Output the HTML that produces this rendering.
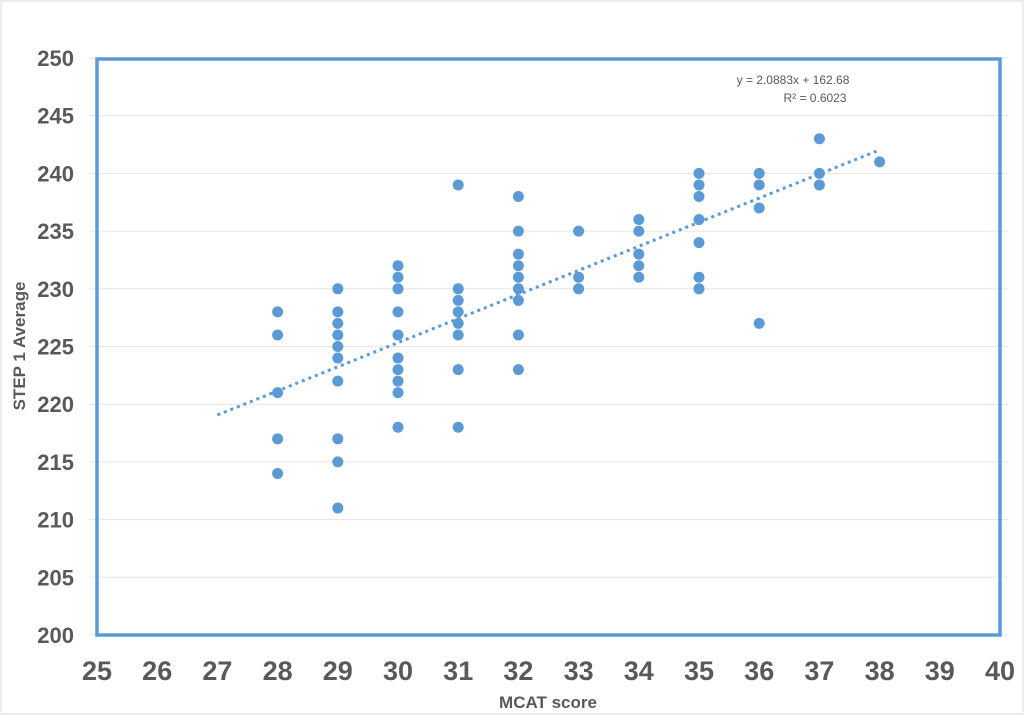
<!DOCTYPE html>
<html><head><meta charset="utf-8"><style>
body{margin:0;background:#fff;width:1024px;height:715px;overflow:hidden;font-family:"Liberation Sans",sans-serif}
</style></head><body>
<svg id="c" width="1024" height="715" xmlns="http://www.w3.org/2000/svg">
<rect x="1" y="1" width="1022" height="713" fill="#fff" stroke="#d9d9d9"/>
</svg>
<script>
const xTicks=[25,26,27,28,29,30,31,32,33,34,35,36,37,38,39,40];
const yTicks=[200,205,210,215,220,225,230,235,240,245,250];
const mcat=[28,28,28,28,28,29,29,29,29,29,29,29,29,29,29,30,30,30,30,30,30,30,30,30,30,31,31,31,31,31,31,31,31,32,32,32,32,32,32,32,32,32,33,33,33,34,34,34,34,34,35,35,35,35,35,35,35,36,36,36,36,37,37,37,38];
const step1=[228,226,221,217,214,230,228,227,226,225,224,222,217,215,211,232,231,230,228,226,224,223,222,221,218,239,230,229,228,227,226,223,218,238,235,233,232,231,230,229,226,223,235,231,230,236,235,233,232,231,240,239,238,236,234,231,230,240,239,237,227,243,240,239,241];
const trendSlope=2.0883, trendIntercept=162.68, trendRange=[27,38];
const svg=document.getElementById('c');const NS='http://www.w3.org/2000/svg';
const X=v=>97+(v-25)*(1000-97)/15, Y=v=>635-(v-200)*(635-58)/50;
function el(t,a,name){const e=document.createElementNS(NS,t);for(const k in a)e.setAttribute(k,a[k]);


svg.appendChild(e);return e;}
yTicks.forEach(v=>{el('line',{x1:89,x2:1008,y1:Y(v),y2:Y(v),stroke:'#e6e6e6','stroke-width':1},'gridline-y');
const t=el('text',{x:74,y:Y(v)+8,'text-anchor':'end','font-size':22,'font-weight':'bold',fill:'#595959'},'y-tick-label');t.textContent=v;});
xTicks.forEach(v=>{const t=el('text',{x:X(v),y:680,'text-anchor':'middle','font-size':27,'font-weight':'bold',fill:'#595959'},'x-tick-label');t.textContent=v;});
el('rect',{x:97,y:59,width:903,height:576,fill:'none',stroke:'#5b9bd5','stroke-width':3.5},'plot-area-border');
mcat.forEach((m,i)=>{el('circle',{cx:X(m),cy:Y(step1[i]),r:5.5,fill:'#5b9bd5'},'data-point');});
el('line',{x1:X(trendRange[0]),y1:Y(trendSlope*trendRange[0]+trendIntercept),x2:X(trendRange[1]),y2:Y(trendSlope*trendRange[1]+trendIntercept),stroke:'#5b9bd5','stroke-width':3,'stroke-dasharray':'3 4'},'trendline');
let t=el('text',{x:793,y:84,'text-anchor':'middle','font-size':12,fill:'#595959'},'trendline-equation');t.textContent='y = 2.0883x + 162.68';
t=el('text',{x:815,y:102,'text-anchor':'middle','font-size':12,fill:'#595959'},'r-squared-label');t.textContent='R² = 0.6023';
t=el('text',{x:548,y:708,'text-anchor':'middle','font-size':17,'font-weight':'bold',fill:'#595959'},'x-axis-title');t.textContent='MCAT score';
t=el('text',{x:25,y:346,'text-anchor':'middle','font-size':17,'font-weight':'bold',fill:'#595959',transform:'rotate(-90 25 346)'},'y-axis-title');t.textContent='STEP 1 Average';
</script>
</body></html>
